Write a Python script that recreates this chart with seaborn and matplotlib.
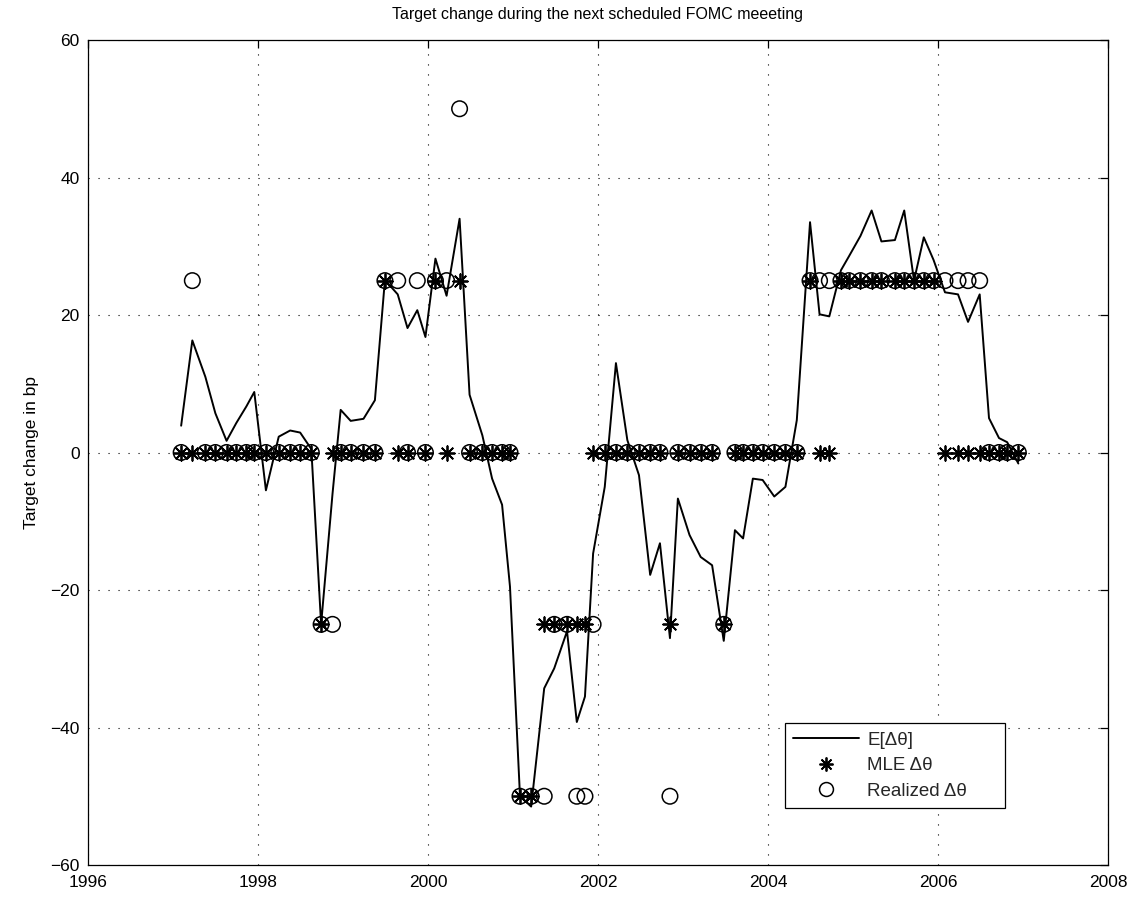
import numpy as np
import pandas as pd
import matplotlib
matplotlib.use("Agg")
import matplotlib.pyplot as plt
import seaborn as sns
from matplotlib.lines import Line2D

# Scheduled FOMC meeting dates (x positions)
meeting_dates = [
    "1997-02-05", "1997-03-25", "1997-05-20", "1997-07-02", "1997-08-19", "1997-09-30", "1997-11-12", "1997-12-16",
    "1998-02-04", "1998-03-31", "1998-05-19", "1998-07-01", "1998-08-18", "1998-09-29", "1998-11-17", "1998-12-22",
    "1999-02-03", "1999-03-30", "1999-05-18", "1999-06-30", "1999-08-24", "1999-10-05", "1999-11-16", "1999-12-21",
    "2000-02-02", "2000-03-21", "2000-05-16", "2000-06-28", "2000-08-22", "2000-10-03", "2000-11-15", "2000-12-19",
    "2001-01-31", "2001-03-20", "2001-05-15", "2001-06-27", "2001-08-21", "2001-10-02", "2001-11-06", "2001-12-11",
    "2002-01-30", "2002-03-19", "2002-05-07", "2002-06-26", "2002-08-13", "2002-09-24", "2002-11-06", "2002-12-10",
    "2003-01-29", "2003-03-18", "2003-05-06", "2003-06-25", "2003-08-12", "2003-09-16", "2003-10-28", "2003-12-09",
    "2004-01-28", "2004-03-16", "2004-05-04", "2004-06-30", "2004-08-10", "2004-09-21", "2004-11-10", "2004-12-14",
    "2005-02-02", "2005-03-22", "2005-05-03", "2005-06-30", "2005-08-09", "2005-09-20", "2005-11-01", "2005-12-13",
    "2006-01-31", "2006-03-28", "2006-05-10", "2006-06-29", "2006-08-08", "2006-09-20", "2006-10-25", "2006-12-12",
]

# E[dtheta] (bp)
expected_change = [
    3.9, 16.3, 11.0, 5.7, 1.7, 4.3, 6.7, 8.8,
    -5.5, 2.3, 3.2, 2.9, 0.5, -25.0, -6.0, 6.2,
    4.6, 4.9, 7.6, 25.1, 23.0, 18.1, 20.7, 16.8,
    28.2, 22.8, 34.0, 8.4, 2.5, -3.8, -7.6, -19.5,
    -50.0, -51.5, -34.3, -31.4, -26.0, -39.2, -35.5, -14.7,
    -5.0, 13.0, 1.8, -3.3, -17.8, -13.2, -27.0, -6.7,
    -12.0, -15.2, -16.4, -27.4, -11.3, -12.5, -3.8, -4.0,
    -6.4, -5.0, 4.7, 33.5, 20.1, 19.8, 26.5, 28.5,
    31.5, 35.2, 30.7, 30.9, 35.2, 25.0, 31.3, 28.0,
    23.3, 23.0, 19.0, 23.0, 5.0, 2.1, 1.5, -1.6,
]

# MLE dtheta (bp)
mle_change = [
    0, 0, 0, 0, 0, 0, 0, 0,
    0, 0, 0, 0, 0, -25, 0, 0,
    0, 0, 0, 25, 0, 0, np.nan, 0,
    25, 0, 25, 0, 0, 0, 0, 0,
    -50, -50, -25, -25, -25, -25, -25, 0,
    0, 0, 0, 0, 0, 0, -25, 0,
    0, 0, 0, -25, 0, 0, 0, 0,
    0, 0, 0, 25, 0, 0, 25, 25,
    25, 25, 25, 25, 25, 25, 25, 25,
    0, 0, 0, 0, 0, 0, 0, 0,
]

# Realized dtheta (bp)
realized_change = [
    0, 25, 0, 0, 0, 0, 0, 0,
    0, 0, 0, 0, 0, -25, -25, 0,
    0, 0, 0, 25, 25, 0, 25, 0,
    25, 25, 50, 0, 0, 0, 0, 0,
    -50, -50, -50, -25, -25, -50, -50, -25,
    0, 0, 0, 0, 0, 0, -50, 0,
    0, 0, 0, -25, 0, 0, 0, 0,
    0, 0, 0, 25, 25, 25, 25, 25,
    25, 25, 25, 25, 25, 25, 25, 25,
    25, 25, 25, 25, 0, 0, 0, 0,
]

x_ticks = [1996, 1998, 2000, 2002, 2004, 2006, 2008]
y_ticks = [-60, -40, -20, 0, 20, 40, 60]

sns.set_theme(style="white")
plt.rcParams['font.family'] = ['Liberation Sans', 'DejaVu Sans']

dates = pd.to_datetime(meeting_dates)
days_in_year = np.where(dates.is_leap_year, 366.0, 365.0)
t = dates.year + (dates.dayofyear - 1) / days_in_year

df = pd.DataFrame({
    "t": t,
    "E": expected_change,
    "MLE": mle_change,
    "Realized": realized_change,
})

fig = plt.figure(figsize=(11.37, 9.0), dpi=100)
fig.patch.set_facecolor("white")
ax = fig.add_axes([88 / 1137, 1 - 865 / 900, (1108 - 88) / 1137, (865 - 40) / 900])
ax.set_facecolor("white")

sns.lineplot(data=df, x="t", y="E", ax=ax, color="black", linewidth=1.4,
             errorbar=None, legend=False, sort=True, zorder=3)
sns.scatterplot(data=df, x="t", y="MLE", ax=ax, marker=(8, 2, 0), s=110,
                color="black", linewidths=1.3, legend=False, zorder=4)
sns.scatterplot(data=df, x="t", y="Realized", ax=ax, marker="o", s=125,
                facecolors="none", edgecolor="black", linewidths=1.1,
                legend=False, zorder=5)

ax.set_xlim(1996, 2008)
ax.set_ylim(-60, 60)
ax.set_xticks(x_ticks)
ax.set_yticks(y_ticks)
ax.set_xticklabels([str(v) for v in x_ticks])
ax.set_yticklabels([str(v).replace("-", "\u2212") for v in y_ticks])

ax.grid(True, color="black", linestyle=(0, (1, 8)), linewidth=0.8)
ax.set_axisbelow(True)
for s in ax.spines.values():
    s.set_visible(True)
    s.set_color("black")
    s.set_linewidth(0.9)

ax.tick_params(direction="in", top=True, right=True, length=6, width=0.9,
               labelsize=12.5, colors="black")
ax.tick_params(axis="x", pad=7)
ax.tick_params(axis="y", pad=6)

ax.set_xlabel("")
ax.set_ylabel("Target change in bp", fontsize=12.5, color="black", labelpad=8)
ax.set_title("Target change during the next scheduled FOMC meeeting",
             fontsize=11.5, color="black", pad=15)

handles = [
    Line2D([], [], color="black", lw=1.4),
    Line2D([], [], color="black", ls="", marker=(8, 2, 0), markersize=10, markeredgewidth=1.3),
    Line2D([], [], color="black", ls="", marker="o", markersize=10,
           markerfacecolor="none", markeredgecolor="black", markeredgewidth=1.1),
]
labels = ["E[\u0394\u03b8]", "MLE \u0394\u03b8", "Realized \u0394\u03b8"]
leg = ax.legend(handles, labels, loc="lower left",
                bbox_to_anchor=(0.683, 0.069, 0.216, 0.103), mode="expand",
                fontsize=13.5, frameon=True, fancybox=False, framealpha=1,
                edgecolor="black", handlelength=3.5, handletextpad=0.45,
                borderpad=0.45, labelspacing=0.45, borderaxespad=0)
leg.get_frame().set_linewidth(0.9)

fig.savefig("out.png", dpi=100, facecolor="white")
